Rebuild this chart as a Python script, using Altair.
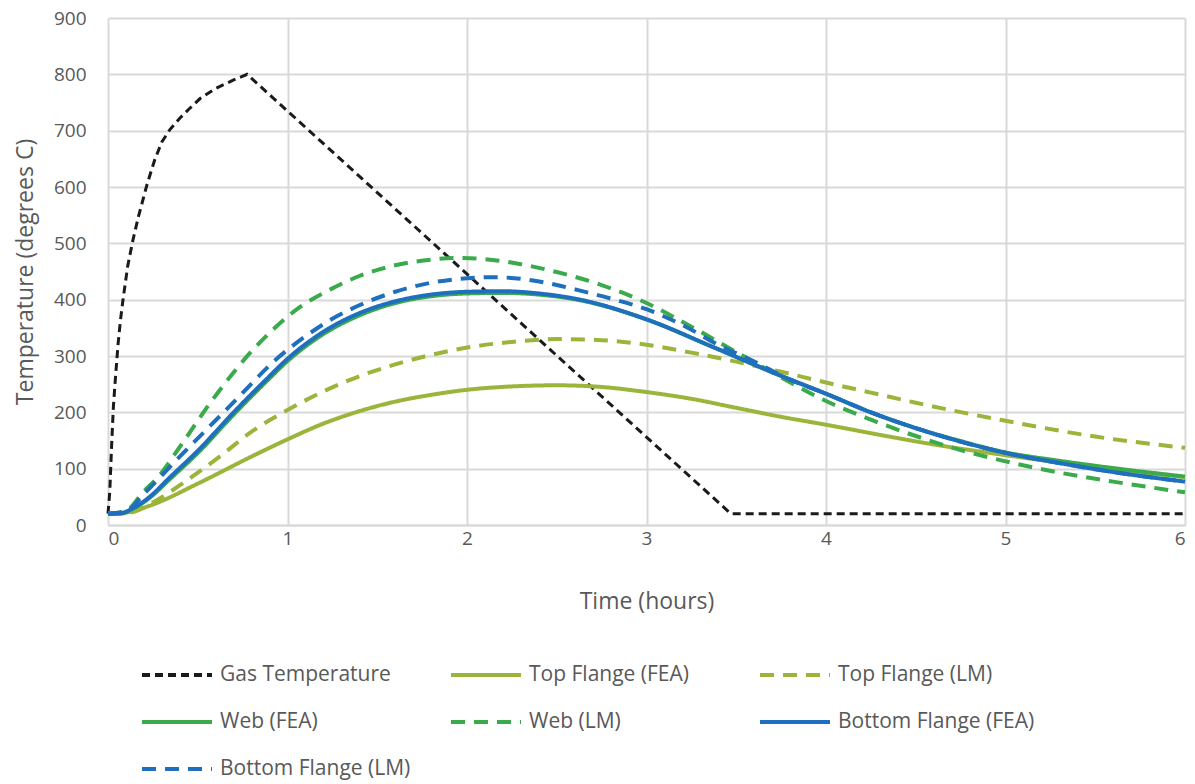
import altair as alt
import pandas as pd

series_names = ["Gas Temperature", "Top Flange (FEA)", "Top Flange (LM)",
                "Web (FEA)", "Web (LM)", "Bottom Flange (FEA)", "Bottom Flange (LM)"]
series_colors = ["#1a1a1a", "#9BB53A", "#9BB53A", "#3AAA4A", "#3AAA4A", "#1F6FBF", "#1F6FBF"]
series_dash = [[8, 5], [1, 0], [14, 9], [1, 0], [14, 9], [1, 0], [14, 9]]

gas_t = [0, 0.01, 0.02, 0.03, 0.04, 0.056, 0.07, 0.084, 0.11, 0.139, 0.17, 0.217, 0.26, 0.30,
         0.345, 0.40, 0.45, 0.513, 0.6, 0.7, 0.775, 3.47, 6.0]
gas_v = [20, 60, 140, 210, 255, 321, 365, 401, 460, 506, 548, 604, 648, 680,
         702, 722, 738, 757, 775, 790, 800, 20, 20]

topfea_t = [0, 0.1, 0.23, 0.51, 0.79, 1.0, 1.2, 1.4, 1.6, 1.8, 2.0, 2.25, 2.5, 2.75, 3.0, 3.25,
            3.5, 3.75, 4.0, 4.3, 4.6, 5.0, 5.3, 5.6, 6.0]
topfea_v = [20, 22, 34, 75, 120, 152, 180, 202, 219, 231, 240, 246, 248, 245, 236, 224,
            208, 192, 178, 160, 143, 124, 111, 99, 85]

toplm_t = [0, 0.12, 0.25, 0.42, 0.62, 0.81, 1.0, 1.2, 1.4, 1.6, 1.8, 2.0, 2.25, 2.5, 2.75, 3.0,
           3.25, 3.5, 3.75, 4.0, 4.25, 4.5, 5.0, 5.5, 6.0]
toplm_v = [20, 22, 40, 75, 121, 168, 204, 237, 264, 285, 302, 315, 325, 330, 328, 320,
           306, 290, 272, 253, 235, 217, 185, 157, 137]

webfea_t = [0, 0.07, 0.14, 0.25, 0.33, 0.51, 0.7, 0.88, 1.0, 1.2, 1.4, 1.6, 1.8, 2.0, 2.2, 2.4,
            2.63, 3.0, 3.37, 3.74, 4.0, 4.25, 4.5, 4.75, 5.0, 5.3, 5.6, 6.0]
webfea_v = [20, 20, 29, 53, 77, 131, 196, 254, 291, 339, 372, 394, 406, 411, 412, 409,
            399, 365, 316, 266, 233, 200, 172, 149, 129, 114, 101, 86]

weblm_t = [0, 0.1, 0.2, 0.27, 0.42, 0.57, 0.66, 0.79, 0.93, 1.07, 1.25, 1.4, 1.6, 1.8, 1.95, 2.1,
           2.3, 2.5, 2.75, 3.0, 3.25, 3.5, 3.75, 4.0, 4.25, 4.5, 4.75, 5.0, 5.3, 5.6, 6.0]
weblm_v = [20, 25, 60, 82, 148, 217, 255, 305, 350, 387, 420, 442, 461, 471, 474, 472,
           463, 449, 426, 394, 352, 307, 262, 220, 187, 158, 133, 113, 93, 77, 58]

botfea_t = [0, 0.07, 0.14, 0.25, 0.33, 0.51, 0.7, 0.88, 1.0, 1.2, 1.4, 1.6, 1.8, 2.0, 2.2, 2.4,
            2.63, 3.0, 3.37, 3.74, 4.0, 4.25, 4.5, 4.75, 5.0, 5.3, 5.6, 6.0]
botfea_v = [20, 21, 30, 55, 80, 135, 200, 258, 295, 343, 376, 397, 409, 414, 415, 411,
            400, 365, 316, 266, 233, 200, 172, 148, 128, 110, 94, 77]

botlm_t = [0, 0.1, 0.2, 0.38, 0.51, 0.70, 0.94, 1.1, 1.25, 1.4, 1.6, 1.8, 2.0, 2.13, 2.3, 2.5,
           2.63, 2.8, 3.0, 3.2, 3.4, 3.6, 3.8, 4.0, 4.25, 4.5, 4.75, 5.0, 5.3, 5.6, 6.0]
botlm_v = [20, 24, 55, 115, 157, 218, 295, 335, 366, 390, 414, 430, 438, 440, 437, 426,
           416, 402, 383, 355, 320, 290, 258, 233, 200, 172, 148, 128, 110, 94, 77]

all_t = [gas_t, topfea_t, toplm_t, webfea_t, weblm_t, botfea_t, botlm_t]
all_v = [gas_v, topfea_v, toplm_v, webfea_v, weblm_v, botfea_v, botlm_v]

rows = []
for i, (name, ts, vs) in enumerate(zip(series_names, all_t, all_v)):
    for j, (t, v) in enumerate(zip(ts, vs)):
        rows.append({"series": name, "time": t, "temp": v, "ord": i, "idx": j})
df = pd.DataFrame(rows)

font = "Open Sans"
label_color = "#595959"

color_scale = alt.Scale(domain=series_names, range=series_colors)
dash_scale = alt.Scale(domain=series_names, range=series_dash)

legend = alt.Legend(
    title=None, orient="none", legendX=32, legendY=620, columns=3,
    direction="horizontal", symbolType="stroke", symbolSize=4900,
    symbolStrokeWidth=4, labelFont=font, labelFontSize=21,
    labelColor=label_color, labelOffset=6, rowPadding=-16, columnPadding=26,
    gridAlign="all", labelLimit=400,
)

x_enc = alt.X("time:Q", scale=alt.Scale(domain=[0, 6], nice=False),
              axis=alt.Axis(title="Time (hours)", values=[0, 1, 2, 3, 4, 5, 6], format="d",
                            ticks=False, labelPadding=4, titlePadding=42,
                            domainColor="#D9D9D9", domainWidth=2))
y_enc = alt.Y("temp:Q", scale=alt.Scale(domain=[0, 900], nice=False),
              axis=alt.Axis(title="Temperature (degrees C)", values=list(range(0, 901, 100)),
                            ticks=False, labelPadding=22, titlePadding=16, domain=False))

base = alt.Chart(df).encode(
    x=x_enc, y=y_enc,
    color=alt.Color("series:N", scale=color_scale, legend=legend),
    strokeDash=alt.StrokeDash("series:N", scale=dash_scale, legend=legend),
    detail="series:N",
    order=alt.Order("idx:Q"),
)

gas = base.transform_filter(alt.datum.series == "Gas Temperature").mark_line(
    strokeWidth=3, interpolate="linear")
others = base.transform_filter(alt.datum.series != "Gas Temperature").mark_line(
    strokeWidth=4, interpolate="monotone")

chart = alt.layer(gas, others).properties(
    width=1077, height=507,
    autosize=alt.AutoSizeParams(type="none"),
    padding={"left": 108, "top": 18, "right": 10, "bottom": 259},
).configure_axis(
    labelFont=font, labelFontSize=19, labelColor=label_color,
    titleFont=font, titleFontSize=23, titleColor=label_color, titleFontWeight="normal",
    gridColor="#D9D9D9", gridWidth=2,
).configure_view(stroke=None)

chart.save("out.html", embed_options={"renderer": "svg", "actions": False})
